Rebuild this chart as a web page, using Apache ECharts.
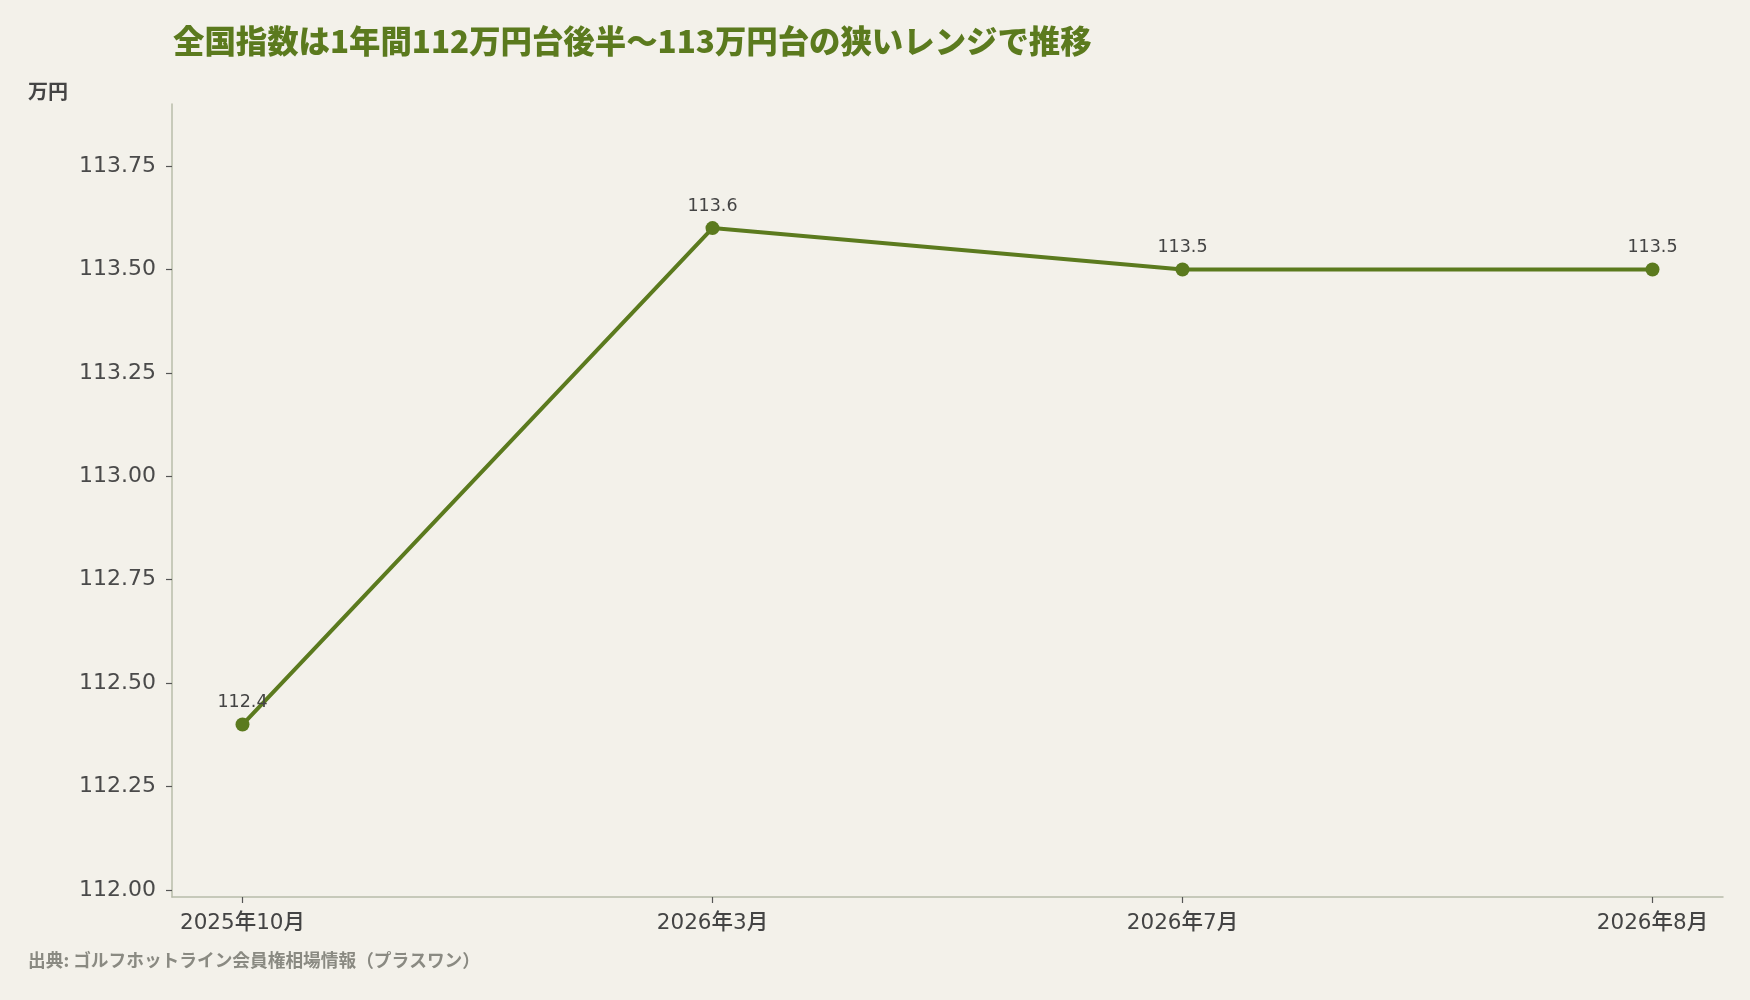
<!DOCTYPE html>
<html>
<head>
<meta charset="utf-8">
<script src="https://cdn.jsdelivr.net/npm/echarts@6/dist/echarts.min.js"></script>
<style>
    html, body { margin: 0; padding: 0; background: #f3f1ea; }
    #chart { width: 1750px; height: 1000px; }
</style>
</head>
<body>
<div id="chart"></div>
<script>
    // データ
    const months = ['2025年10月', '2026年3月', '2026年7月', '2026年8月'];
    const indexValues = [112.4, 113.6, 113.5, 113.5];
    const yTicks = [112.00, 112.25, 112.50, 112.75, 113.00, 113.25, 113.50, 113.75];

    const GREEN = '#5b7a1e';
    const TEXT = '#444444';
    const FONT = '"Noto Sans CJK JP", "Noto Sans", sans-serif';
    const NUM_FONT = '"DejaVu Sans", "Noto Sans CJK JP", sans-serif';

    const chart = echarts.init(document.getElementById('chart'));

    const option = {
        backgroundColor: '#f3f1ea',
        animation: false,
        textStyle: { fontFamily: FONT },
        title: {
            text: '全国指数は1年間112万円台後半〜113万円台の狭いレンジで推移',
            left: 168,
            top: 20,
            textStyle: {
                color: GREEN,
                fontSize: 31.4,
                fontWeight: 900,
                fontFamily: FONT
            }
        },
        graphic: [
            {
                type: 'text',
                left: 28,
                top: 81,
                style: {
                    text: '万円',
                    fill: TEXT,
                    font: '600 20px ' + FONT
                }
            },
            {
                type: 'text',
                left: 28,
                top: 951,
                style: {
                    text: '出典: ゴルフホットライン会員権相場情報（プラスワン）',
                    fill: '#8a8a82',
                    font: '600 17.7px ' + FONT
                }
            }
        ],
        grid: {
            left: 172,
            right: 27,
            top: 104,
            bottom: 103,
            containLabel: false
        },
        xAxis: {
            type: 'value',
            min: -0.15,
            max: 3.15,
            splitLine: { show: false },
            axisLine: {
                show: true,
                onZero: false,
                lineStyle: { color: '#b8bcaa', width: 1.5 }
            },
            axisTick: {
                show: true,
                customValues: months.map((_, i) => i),
                length: 6,
                lineStyle: { color: '#555', width: 1.2 }
            },
            axisLabel: {
                customValues: months.map((_, i) => i),
                formatter: (v) => months[Math.round(v)] || '',
                color: TEXT,
                fontFamily: NUM_FONT,
                fontSize: 21.5,
                fontWeight: 500,
                margin: 16
            }
        },
        yAxis: {
            type: 'value',
            min: 111.983,
            max: 113.9,
            splitLine: { show: false },
            axisLine: {
                show: true,
                onZero: false,
                lineStyle: { color: '#b8bcaa', width: 1.5 }
            },
            axisTick: {
                show: true,
                customValues: yTicks,
                length: 6,
                lineStyle: { color: '#555', width: 1.2 }
            },
            axisLabel: {
                customValues: yTicks,
                formatter: (v) => v.toFixed(2),
                color: '#4a4a4a',
                fontFamily: NUM_FONT,
                fontSize: 22,
                fontWeight: 'normal',
                margin: 16
            }
        },
        series: [{
            name: '全国指数',
            type: 'line',
            data: indexValues.map((v, i) => [i, v]),
            symbol: 'circle',
            symbolSize: 14,
            lineStyle: { color: GREEN, width: 4 },
            itemStyle: { color: GREEN },
            label: {
                show: true,
                position: 'top',
                distance: 6,
                formatter: (p) => p.value[1].toFixed(1),
                color: TEXT,
                fontFamily: NUM_FONT,
                fontSize: 17.5,
                fontWeight: 'normal'
            }
        }]
    };

    chart.setOption(option);
</script>
</body>
</html>
